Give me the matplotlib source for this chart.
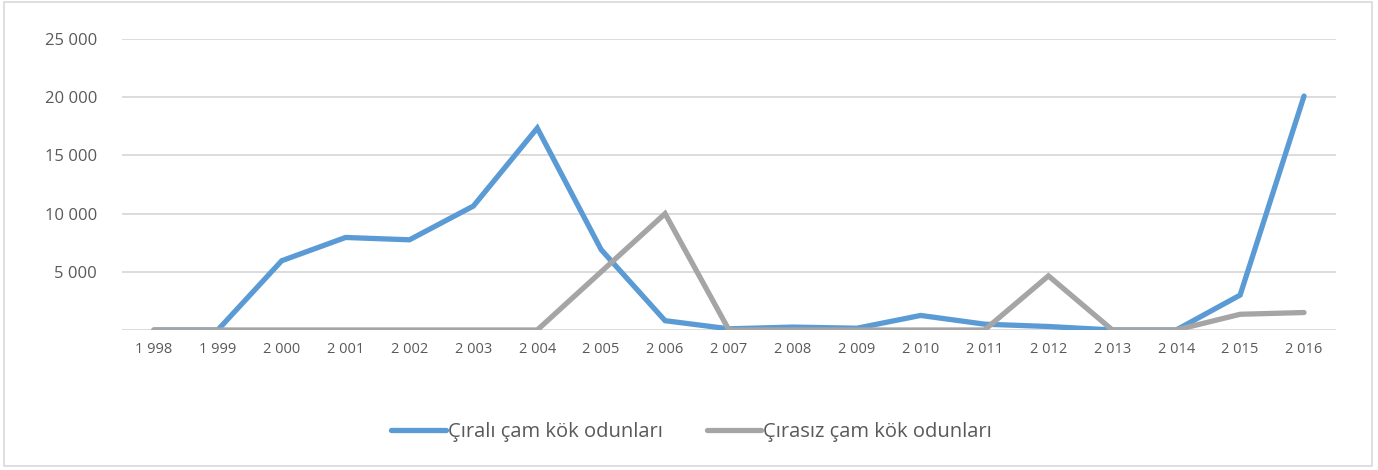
import matplotlib.pyplot as plt
from matplotlib.ticker import FuncFormatter
from matplotlib.patches import Rectangle

years = list(range(1998, 2017))
year_labels = [str(y)[0] + " " + str(y)[1:] for y in years]

cirali = [0, 0, 5950, 7950, 7750, 10650, 17350, 6900, 800, 100, 250, 150,
          1250, 500, 300, 0, 0, 3000, 20100]
cirasiz = [0, 0, 0, 0, 0, 0, 0, 5000, 10000, 0, 0, 0,
           0, 0, 4650, 0, 0, 1350, 1500]

plt.rcParams['font.family'] = ['Open Sans', 'DejaVu Sans']
txt = '#595959'

fig = plt.figure(figsize=(13.78, 4.70), dpi=100)
ax = fig.add_axes([0.0885, 0.2979, 0.881, 0.619])

x = range(len(years))
ax.plot(x, cirali, color='#5B9BD5', linewidth=3.8, solid_capstyle='round',
        solid_joinstyle='miter', label='Çıralı çam kök odunları', zorder=2)
ax.plot(x, cirasiz, color='#A5A5A5', linewidth=3.8, solid_capstyle='round',
        solid_joinstyle='miter', label='Çırasız çam kök odunları', zorder=3)

ax.set_xlim(-0.5, len(years) - 0.5)
ax.set_ylim(0, 25000)
ax.set_yticks([0, 5000, 10000, 15000, 20000, 25000])
ax.yaxis.set_major_formatter(FuncFormatter(
    lambda v, p: '' if v == 0 else "{:,.0f}".format(v).replace(",", " ")))
ax.set_xticks(list(x))
ax.set_xticklabels(year_labels)

ax.grid(axis='y', color='#D9D9D9', linewidth=1.3)
ax.set_axisbelow(True)
for s in ax.spines.values():
    s.set_visible(False)
ax.tick_params(axis='both', length=0, colors=txt)
ax.tick_params(axis='y', labelsize=12, pad=18)
ax.tick_params(axis='x', labelsize=10.5, pad=9)

leg = fig.legend(loc='center', bbox_to_anchor=(0.502, 0.081), ncol=2,
                 frameon=False, fontsize=14.5, handlelength=2.7,
                 handletextpad=0.1, columnspacing=2.2, labelcolor=txt)

fig.patches.append(Rectangle((0.003, 0.008), 0.993, 0.988, transform=fig.transFigure,
                             fill=False, edgecolor='#D9D9D9', linewidth=1.2))

plt.savefig('out.png', dpi=100)
